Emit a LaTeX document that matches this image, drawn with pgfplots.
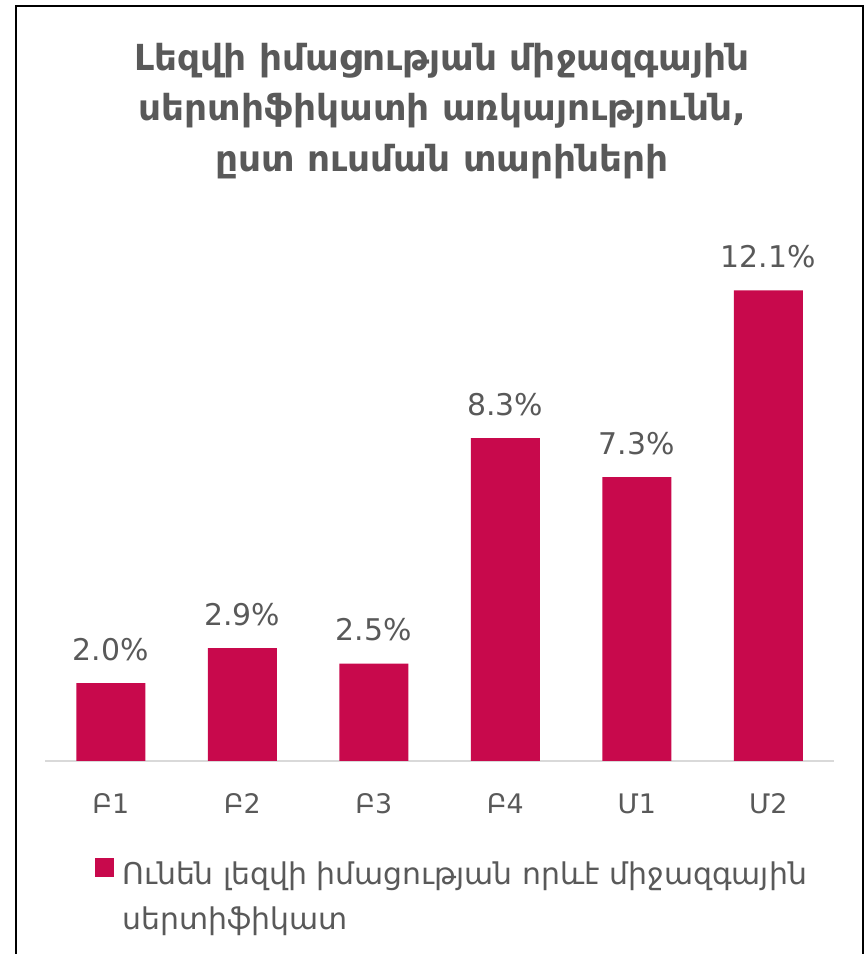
\documentclass[border=0pt]{standalone}
\usepackage{fontspec}
\setmainfont{DejaVu Sans}
\usepackage{pgfplots}
\pgfplotsset{compat=1.18}
\definecolor{barc}{HTML}{C8094C}
\definecolor{txt}{HTML}{595959}
\definecolor{axc}{HTML}{D9D9D9}
\begin{document}
\begin{tikzpicture}[x=1bp,y=1bp]
\path[use as bounding box] (0,0) rectangle (868,954);
\draw[line width=2bp] (16,-5) -- (16,948) -- (863,948) -- (863,-5);
\node[font=\bfseries\fontsize{36}{51}\selectfont, text=txt, align=center] at (442,843)
  {Լեզվի իմացության միջազգային\\սերտիֆիկատի առկայությունն,\\ըստ ուսման տարիների};
\begin{axis}[
  at={(45bp,193bp)}, anchor=south west,
  scale only axis, width=789bp, height=544.6bp,
  xmin=-0.5, xmax=5.5, ymin=0, ymax=14,
  axis x line*=bottom, axis y line=none,
  x axis line style={axc, line width=2bp, -},
  ybar, bar width=69bp,
  xtick=data,
  xticklabels={Բ1,Բ2,Բ3,Բ4,Մ1,Մ2},
  major tick length=0pt,
  xticklabel style={font=\fontsize{27}{30}\selectfont, text=txt, yshift=-29bp},
  /pgf/number format/assume math mode=true,
  nodes near coords={\pgfmathprintnumber[fixed,fixed zerofill,precision=1]{\pgfplotspointmeta}\%},
  every node near coord/.append style={font=\fontsize{30}{34}\selectfont, text=txt, yshift=19bp},
  legend style={at={(47bp,-95bp)}, anchor=north west, draw=none, fill=none,
    font=\fontsize{30}{45}\selectfont, text=txt, legend cell align=left,
    /tikz/every even column/.append style={column sep=0bp}},
  legend image code/.code={\fill[barc] (0bp,-3bp) rectangle (19bp,16bp);},
]
\addplot[fill=barc, draw=none] coordinates {(0,2.0) (1,2.9) (2,2.5) (3,8.3) (4,7.3) (5,12.1)};
\addlegendentry{\hspace{6bp}\parbox[t]{740bp}{Ունեն լեզվի իմացության որևէ միջազգային\\սերտիֆիկատ}}
\end{axis}
\end{tikzpicture}
\end{document}
